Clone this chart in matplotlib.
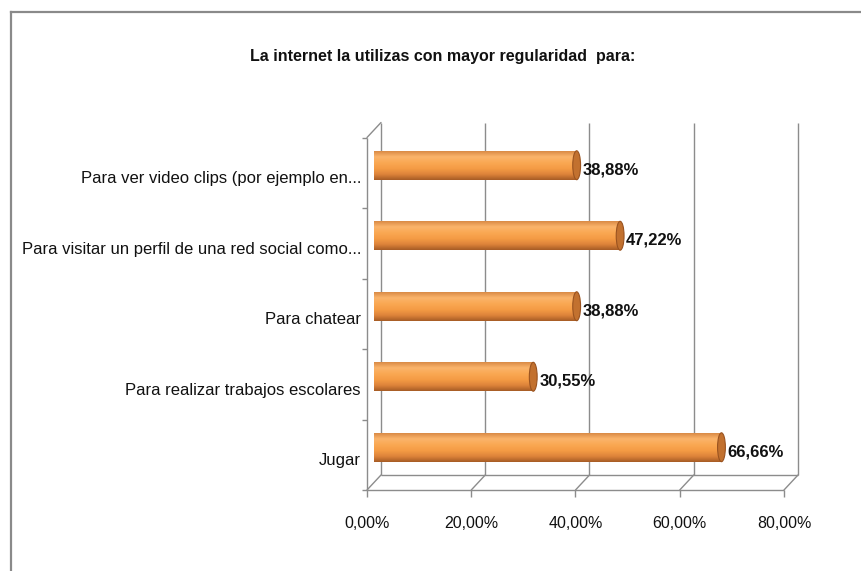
#!/usr/bin/env python3
import numpy as np
import matplotlib

matplotlib.use("Agg")
import matplotlib.pyplot as plt
from matplotlib import transforms
from matplotlib.colors import LinearSegmentedColormap
from matplotlib.lines import Line2D
from matplotlib.patches import ConnectionPatch, Ellipse

# Dati del grafico (dal basso verso l'alto)
categories = [
    "Jugar",
    "Para realizar trabajos escolares",
    "Para chatear",
    "Para visitar un perfil de una red social como...",
    "Para ver video clips (por ejemplo en...",
]
values = [66.66, 30.55, 38.88, 47.22, 38.88]
x_ticks = [0, 20, 40, 60, 80]
title = "La internet la utilizas con mayor regularidad  para:"


def pct(v):
    # Formato percentuale con virgola decimale
    return f"{v:.2f}%".replace(".", ",")


plt.rcParams["font.family"] = ["Liberation Sans", "DejaVu Sans"]

GRID = "#8c8c8c"
TXT = "#111111"
W, H = 862, 571

fig = plt.figure(figsize=(W / 100, H / 100), dpi=100)
# Assi sul piano medio della profondita 3D
ax = fig.add_axes([374 / W, (H - 482.5) / H, 417 / W, 352.5 / H])
ax.set_xlim(0, 80)
ax.set_ylim(-0.5, 4.5)
ax.axis("off")

dx, dy = 7.0 / 100, 7.5 / 100   # profondita in pollici
back = ax.transData + transforms.ScaledTranslation(dx, dy, fig.dpi_scale_trans)
front = ax.transData + transforms.ScaledTranslation(-dx, -dy, fig.dpi_scale_trans)

# Parete di fondo: griglia verticale
ax.vlines(x_ticks, -0.5, 4.5, colors=GRID, lw=1.0, transform=back, clip_on=False)
ax.hlines(-0.5, 0, 80, colors=GRID, lw=1.0, transform=back, clip_on=False)
# Piano frontale: asse x e asse y
ax.hlines(-0.5, 0, 80, colors=GRID, lw=1.0, transform=front, clip_on=False)
ax.vlines(0, -0.5, 4.5, colors=GRID, lw=1.0, transform=front, clip_on=False)
ax.vlines(x_ticks, -0.6, -0.5, colors=GRID, lw=1.0, transform=front, clip_on=False)
ax.hlines(np.arange(-0.5, 5, 1.0), -0.9, 0, colors=GRID, lw=1.0,
          transform=front, clip_on=False)

# Diagonali tra fondo e fronte
corners = [(v, -0.5) for v in x_ticks] + [(0, 4.5)]
for xy in corners:
    con = ConnectionPatch(xyA=xy, xyB=xy, coordsA=back, coordsB=front,
                          color=GRID, lw=1.0)
    fig.add_artist(con)

# Barre cilindriche
cyl = LinearSegmentedColormap.from_list(
    "cyl", ["#d98a45", "#fbb46b", "#faa853", "#f59c45", "#de843a", "#a65b25"])
grad = np.linspace(0, 1, 256).reshape(-1, 1)
bh = 0.41
cap_w = 1.5

for i, v in enumerate(values):
    rect = ax.barh(i, v, height=bh, color="none", zorder=3)[0]
    im = ax.imshow(grad, extent=(0, v, i - bh / 2, i + bh / 2), aspect="auto",
                   cmap=cyl, origin="upper", zorder=3)
    im.set_clip_path(rect)
    left = Ellipse((0, i), cap_w, bh, facecolor="none", edgecolor="none")
    ax.add_patch(left)
    im2 = ax.imshow(grad, extent=(-cap_w / 2, cap_w / 2, i - bh / 2, i + bh / 2),
                    aspect="auto", cmap=cyl, origin="upper", zorder=3)
    im2.set_clip_path(left)
    ax.add_patch(Ellipse((v, i), cap_w, bh, facecolor="#c2712f",
                         edgecolor="#9a5320", lw=0.8, zorder=4))
    lab = ax.transData + transforms.ScaledTranslation(0.06, -0.045, fig.dpi_scale_trans)
    ax.text(v, i, pct(v), transform=lab, ha="left", va="center",
            fontsize=12, fontweight="bold", color=TXT, zorder=5)

ax.set_xlim(0, 80)
ax.set_ylim(-0.5, 4.5)

# Etichette categorie e asse x
ylab = front + transforms.ScaledTranslation(-0.06, -0.06, fig.dpi_scale_trans)
for i, c in enumerate(categories):
    ax.text(0, i, c, transform=ylab, ha="right", va="center",
            fontsize=12, color=TXT)
xlab = front + transforms.ScaledTranslation(0, -0.34, fig.dpi_scale_trans)
for v in x_ticks:
    ax.text(v, -0.5, pct(v), transform=xlab, ha="center", va="center",
            fontsize=11.5, color=TXT)

fig.text(443 / W, 1 - 57 / H, title, ha="center", va="center",
         fontsize=11.5, fontweight="bold", color=TXT)

# Cornice del grafico (solo lati superiore e sinistro visibili)
fig.add_artist(Line2D([11 / W, 1], [1 - 12 / H] * 2, transform=fig.transFigure,
                      color="#8a8a8a", lw=1.6))
fig.add_artist(Line2D([11 / W] * 2, [0, 1 - 12 / H], transform=fig.transFigure,
                      color="#8a8a8a", lw=1.6))

fig.savefig("out.png", dpi=100)
